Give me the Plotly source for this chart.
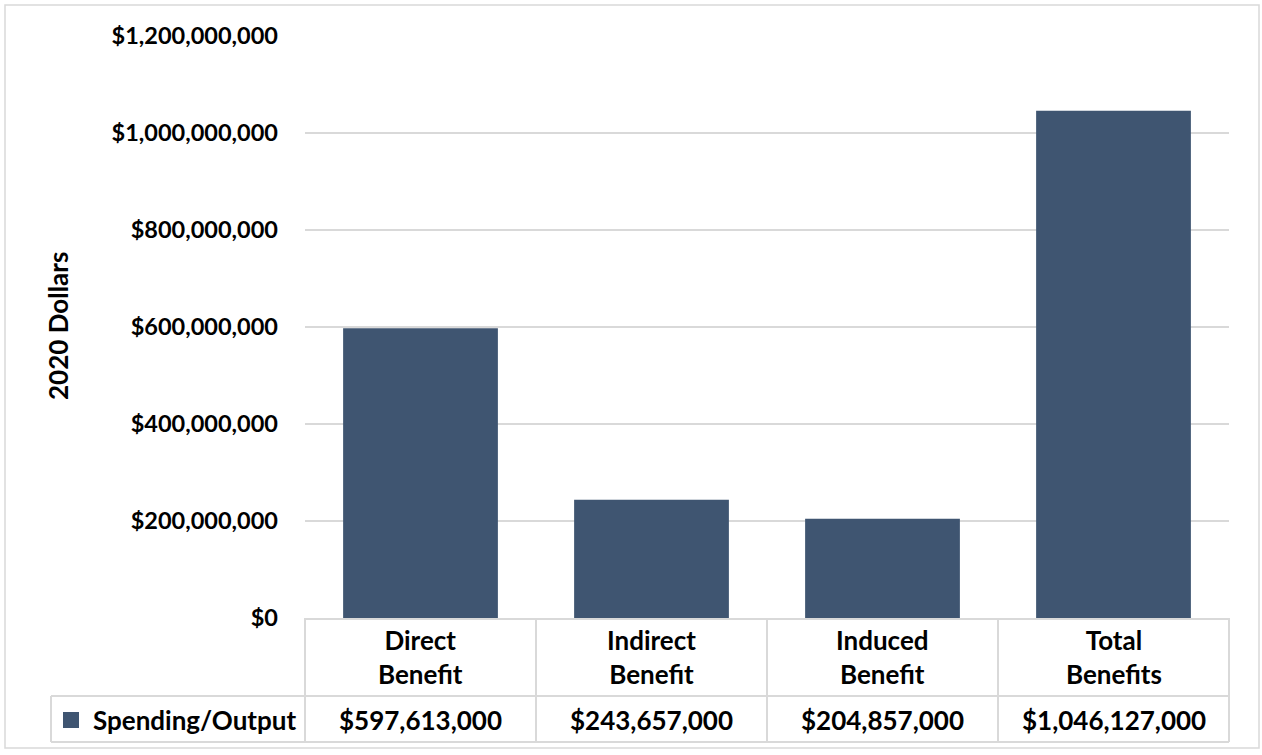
import plotly.graph_objects as go

categories = ["Direct<br>Benefit", "Indirect<br>Benefit", "Induced<br>Benefit", "Total<br>Benefits"]
values = [597613000, 243657000, 204857000, 1046127000]
series_name = "Spending/Output"
y_title = "2020 Dollars"
y_ticks = [0, 200000000, 400000000, 600000000, 800000000, 1000000000, 1200000000]

BAR = "#3F5571"
GRID = "#D9D9D9"
FONT = "Lato"

W, H = 1262, 755
L, R, T, B = 305, 33, 36, 137
PW, PH = W - L - R, H - T - B

def px(xp):
    return (xp - L) / PW

def py(yp):
    return (H - B - yp) / PH

fig = go.Figure()
fig.add_trace(go.Bar(x=list(range(len(categories))), y=values, marker_color=BAR,
                     marker_line_width=0, name=series_name, showlegend=False))

fig.update_layout(
    width=W, height=H,
    margin=dict(l=L, r=R, t=T, b=B),
    paper_bgcolor="white", plot_bgcolor="white",
    bargap=0.33,
    font=dict(family=FONT, color="black"),
    xaxis=dict(range=[-0.5, len(categories) - 0.5], showticklabels=False, showgrid=False,
               showline=True, linecolor=GRID, linewidth=2, zeroline=False, ticks=""),
    yaxis=dict(range=[0, 1200000000], tickvals=y_ticks,
               ticktext=["${:,.0f}".format(v) for v in y_ticks],
               showgrid=True, gridcolor=GRID, gridwidth=2, zeroline=False,
               tickfont=dict(family=FONT, size=23.5, weight="bold"),
               ticklabelstandoff=26, ticks=""),
)

ann = []
# y axis title
ann.append(dict(text=y_title, x=px(58), y=py(326), xref="paper", yref="paper",
                textangle=-90, showarrow=False, xanchor="center", yanchor="middle",
                font=dict(size=26, family=FONT, weight="bold")))
# category header row
for i, c in enumerate(categories):
    ann.append(dict(text=c, x=i, y=py(657), xref="x", yref="paper", showarrow=False,
                    xanchor="center", yanchor="middle",
                    font=dict(size=26, family=FONT, weight="bold")))
    ann.append(dict(text="${:,.0f}".format(values[i]), x=i, y=py(720), xref="x", yref="paper",
                    showarrow=False, xanchor="center", yanchor="middle",
                    font=dict(size=26, family=FONT, weight="bold")))
ann.append(dict(text=series_name, x=px(298), y=py(720), xref="paper", yref="paper",
                showarrow=False, xanchor="right", yanchor="middle",
                font=dict(size=26, family=FONT, weight="bold")))
fig.update_layout(annotations=ann)

shapes = []
lw = 2
# outer chart border
shapes.append(dict(type="rect", xref="paper", yref="paper", x0=px(5), x1=px(1259),
                   y0=py(748), y1=py(5), line=dict(color=GRID, width=1.5)))
# table lines
for k in range(len(categories) + 1):
    xp = px(L + k * PW / len(categories))
    shapes.append(dict(type="line", xref="paper", yref="paper", x0=xp, x1=xp,
                       y0=py(618), y1=py(742), line=dict(color=GRID, width=lw)))
shapes.append(dict(type="line", xref="paper", yref="paper", x0=px(51), x1=px(51),
                   y0=py(696), y1=py(742), line=dict(color=GRID, width=lw)))
for yy in (696, 742):
    shapes.append(dict(type="line", xref="paper", yref="paper", x0=px(51), x1=1,
                       y0=py(yy), y1=py(yy), line=dict(color=GRID, width=lw)))
# legend key
shapes.append(dict(type="rect", xref="paper", yref="paper", x0=px(63), x1=px(79),
                   y0=py(728), y1=py(712), fillcolor=BAR, line=dict(width=0)))
fig.update_layout(shapes=shapes)

fig.write_html("out.html")
